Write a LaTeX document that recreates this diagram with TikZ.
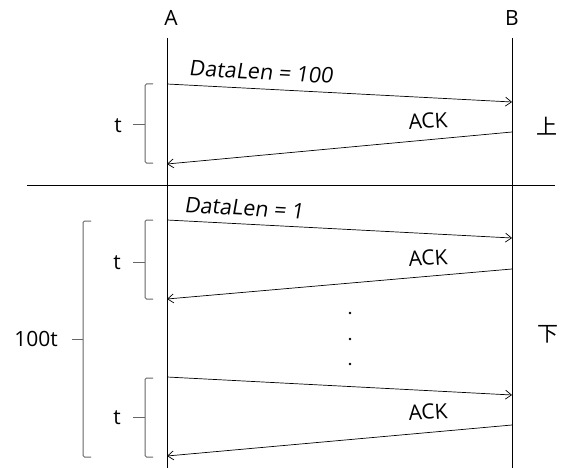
\documentclass[tikz,border=0pt]{standalone}
\usepackage{fontspec}
\setmainfont{Open Sans}
\newfontfamily\slantfont[FakeSlant=0.12]{Open Sans}
\newfontfamily\cjk{Noto Sans CJK SC}
\usetikzlibrary{arrows.meta}

\tikzset{
  lifeline/.style={line width=0.9pt},
  msg/.style={line width=0.7pt, -{Straight Barb[length=6pt,width=9pt,line width=0.7pt]}},
  brace/.style={draw=black!60, line width=1pt, rounded corners=1.5pt},
  lbl/.style={font=\fontsize{21}{24}\selectfont, inner sep=0pt},
  msglbl/.style={lbl, font=\fontsize{21.5}{24}\selectfont\slantfont},
}

\begin{document}
\begin{tikzpicture}[x=1pt,y=-1pt]
    \useasboundingbox (0,0) rectangle (570,468);
    % Hosts
    \node[lbl] (A) at (171,18) {A};
    \node[lbl] (B) at (512,18) {B};
    \coordinate (Atop) at (167,38);
    \coordinate (Abot) at (167,468);
    \coordinate (Btop) at (512,38);
    \coordinate (Bbot) at (512,468);
    \draw[lifeline] (Atop) -- (Abot);
    \draw[lifeline] (Btop) -- (Bbot);
    % Separator between the two cases
    \coordinate (sepL) at (27,185);
    \coordinate (sepR) at (555,185);
    \draw[line width=0.9pt] (sepL) -- (sepR);
    % Upper case: one segment of 100
    \coordinate (a1) at (167,84);
    \coordinate (b1) at (512,102);
    \coordinate (b2) at (512,132);
    \coordinate (a2) at (167,164);
    \draw[msg] (a1) -- (b1);
    \draw[msg] (b2) -- (a2);
    \node[msglbl, rotate=-3] (len1) at (261,72) {DataLen = 100};
    \node[lbl, rotate=4] (ack1) at (428,121) {ACK};
    \node[lbl] (up) at (547,126) {\cjk 上};
    % Brace for t (upper)
    \draw[brace] (153,84) -- (145,84) -- (145,163) -- (153,163);
    \draw[brace] (145,125) -- (133,125);
    \node[lbl] (t1) at (118,126) {t};
    % Lower case: segments of 1
    \coordinate (a3) at (167,220);
    \coordinate (b3) at (512,238);
    \coordinate (b4) at (512,269);
    \coordinate (a4) at (167,299);
    \draw[msg] (a3) -- (b3);
    \draw[msg] (b4) -- (a4);
    \node[msglbl, rotate=-3] (len2) at (244,208) {DataLen = 1};
    \node[lbl, rotate=4] (ack2) at (428,258) {ACK};
    \draw[brace] (153,220) -- (145,220) -- (145,299) -- (153,299);
    \draw[brace] (145,262) -- (133,262);
    \node[lbl] (t2) at (117,263) {t};
    % Dots
    \fill (350,313) circle (1.3);
    \fill (350,339) circle (1.3);
    \fill (350,364) circle (1.3);
    % Last segment
    \coordinate (a5) at (167,377);
    \coordinate (b5) at (512,395);
    \coordinate (b6) at (512,425);
    \coordinate (a6) at (167,456);
    \draw[msg] (a5) -- (b5);
    \draw[msg] (b6) -- (a6);
    \node[lbl, rotate=4] (ack3) at (428,412) {ACK};
    \draw[brace] (153,378) -- (145,378) -- (145,457) -- (153,457);
    \draw[brace] (145,417) -- (133,417);
    \node[lbl] (t3) at (117,418) {t};
    % Brace for 100t
    \draw[brace] (91,221) -- (83,221) -- (83,457) -- (91,457);
    \draw[brace] (83,339) -- (72,339);
    \node[lbl] (total) at (36,339) {100t};
    \node[lbl] (down) at (548,334) {\cjk 下};
\end{tikzpicture}
\end{document}
